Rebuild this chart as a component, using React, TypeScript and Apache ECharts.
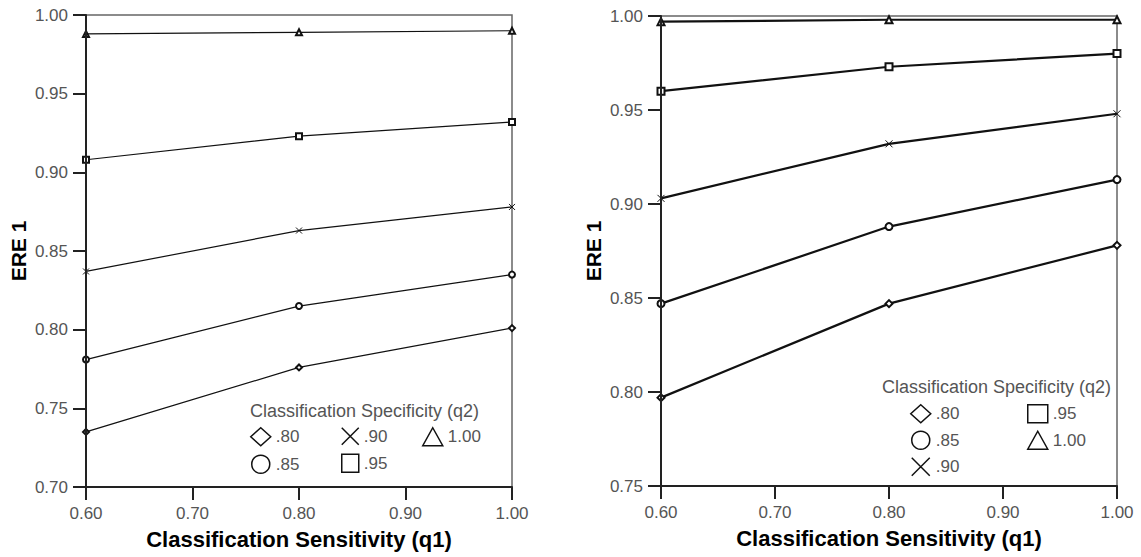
import React, { useEffect, useRef } from "react";
import * as echarts from "echarts";

const q1 = [0.6, 0.8, 1.0];
const xTicks = { min: 0.6, max: 1.0, interval: 0.1 };
const specNames = [".80", ".85", ".90", ".95", "1.00"];

const leftQ80 = [0.735, 0.776, 0.801];
const leftQ85 = [0.781, 0.815, 0.835];
const leftQ90 = [0.837, 0.863, 0.878];
const leftQ95 = [0.908, 0.923, 0.932];
const leftQ100 = [0.988, 0.989, 0.990];

const rightQ80 = [0.797, 0.847, 0.878];
const rightQ85 = [0.847, 0.888, 0.913];
const rightQ90 = [0.903, 0.932, 0.948];
const rightQ95 = [0.960, 0.973, 0.980];
const rightQ100 = [0.997, 0.998, 0.998];

const xTitle = "Classification Sensitivity (q1)";
const yTitle = "ERE 1";
const legendTitle = "Classification Specificity (q2)";

const CROSS = "path://M0,0L10,10M10,0L0,10";
const seriesSymbols = ["emptyDiamond", "emptyCircle", CROSS, "emptyRect", "emptyTriangle"];
const legendIcons = ["diamond", "circle", CROSS, "rect", "triangle"];

const FONT = "'Liberation Sans', Arial, sans-serif";

export default function App() {
  const ref = useRef<HTMLDivElement>(null);
  useEffect(() => {
    document.body.style.margin = "0";
    const chart = echarts.init(ref.current!, null, { renderer: "svg" });
    const leftData = [leftQ80, leftQ85, leftQ90, leftQ95, leftQ100];
    const rightData = [rightQ80, rightQ85, rightQ90, rightQ95, rightQ100];

    const mkSeries = (data: number[][], idx: number, width: number, size: number) =>
      data.map((vals, i) => ({
        type: "line",
        name: specNames[i],
        xAxisIndex: idx,
        yAxisIndex: idx,
        data: vals.map((v, j) => [q1[j], v]),
        symbol: seriesSymbols[i],
        symbolSize: size,
        showSymbol: true,
        lineStyle: { color: "#111", width },
        itemStyle: { color: "#111", borderColor: "#111", borderWidth: 1 },
        emphasis: { disabled: true },
        z: 3,
      }));

    const axisLineStyle = { show: true, onZero: false, lineStyle: { color: "#222", width: 2 } };
    const axisTickStyle = { show: true, inside: false, length: 13, lineStyle: { color: "#222", width: 2 } };

    const xAxisBase = {
      type: "value",
      min: xTicks.min,
      max: xTicks.max,
      interval: xTicks.interval,
      name: xTitle,
      nameLocation: "middle",
      nameGap: 41,
      nameTextStyle: { fontFamily: FONT, fontSize: 22, fontWeight: "bold", color: "#000" },
      axisLine: axisLineStyle,
      axisTick: axisTickStyle,
      axisLabel: {
        fontFamily: FONT,
        fontSize: 17,
        color: "#555",
        margin: 18,
        formatter: (v: number) => v.toFixed(2),
      },
      splitLine: { show: false },
      z: 5,
    };
    const yAxisBase = (min: number) => ({
      type: "value",
      min,
      max: 1.0,
      interval: 0.05,
      name: yTitle,
      nameLocation: "middle",
      nameRotate: 90,
      nameGap: 57,
      nameTextStyle: { fontFamily: FONT, fontSize: 21, fontWeight: "bold", color: "#000" },
      axisLine: axisLineStyle,
      axisTick: axisTickStyle,
      axisLabel: {
        fontFamily: FONT,
        fontSize: 17,
        color: "#555",
        margin: 18,
        formatter: (v: number) => v.toFixed(2),
      },
      splitLine: { show: false },
      z: 5,
    });

    const legendBase = {
      orient: "vertical",
      selectedMode: false,
      padding: 0,
      itemWidth: 20,
      itemHeight: 18,
      itemGap: 8,
      textStyle: { fontFamily: FONT, fontSize: 17, color: "#555" },
      itemStyle: { color: "#fff", borderColor: "#111", borderWidth: 1.5 },
      lineStyle: { width: 0 },
    };
    const li = (i: number) => ({ name: specNames[i], icon: legendIcons[i] });
    const legendTitleStyle = { fontFamily: FONT, fontSize: 18, fontWeight: "normal", color: "#555" };

    chart.setOption({
      animation: false,
      backgroundColor: "#fff",
      title: [
        { text: legendTitle, left: 250, top: 402, padding: 0, textStyle: legendTitleStyle },
        { text: legendTitle, left: 882, top: 378, padding: 0, textStyle: legendTitleStyle },
      ],
      legend: [
        { ...legendBase, left: 250, top: 427, data: [li(0), li(1)] },
        { ...legendBase, left: 341, top: 427, itemWidth: 17, data: [li(2), li(3)] },
        { ...legendBase, left: 422, top: 427, data: [li(4)] },
        { ...legendBase, left: 910, top: 404, itemGap: 7, data: [li(0), li(1), li(2)] },
        { ...legendBase, left: 1027, top: 404, itemGap: 7, data: [li(3), li(4)] },
      ],
      grid: [
        { left: 86, top: 15, width: 426, height: 472, show: true, borderColor: "#666", borderWidth: 1.5, backgroundColor: "transparent" },
        { left: 661, top: 16, width: 456, height: 470, show: true, borderColor: "#666", borderWidth: 1.5, backgroundColor: "transparent" },
      ],
      xAxis: [
        { ...xAxisBase, gridIndex: 0 },
        { ...xAxisBase, gridIndex: 1 },
      ],
      yAxis: [
        { ...yAxisBase(0.7), gridIndex: 0 },
        { ...yAxisBase(0.75), gridIndex: 1 },
      ],
      series: [...mkSeries(leftData, 0, 1.2, 6), ...mkSeries(rightData, 1, 2.2, 7)],
    });
    return () => chart.dispose();
  }, []);
  return <div ref={ref} style={{ width: 1141, height: 557 }} />;
}
